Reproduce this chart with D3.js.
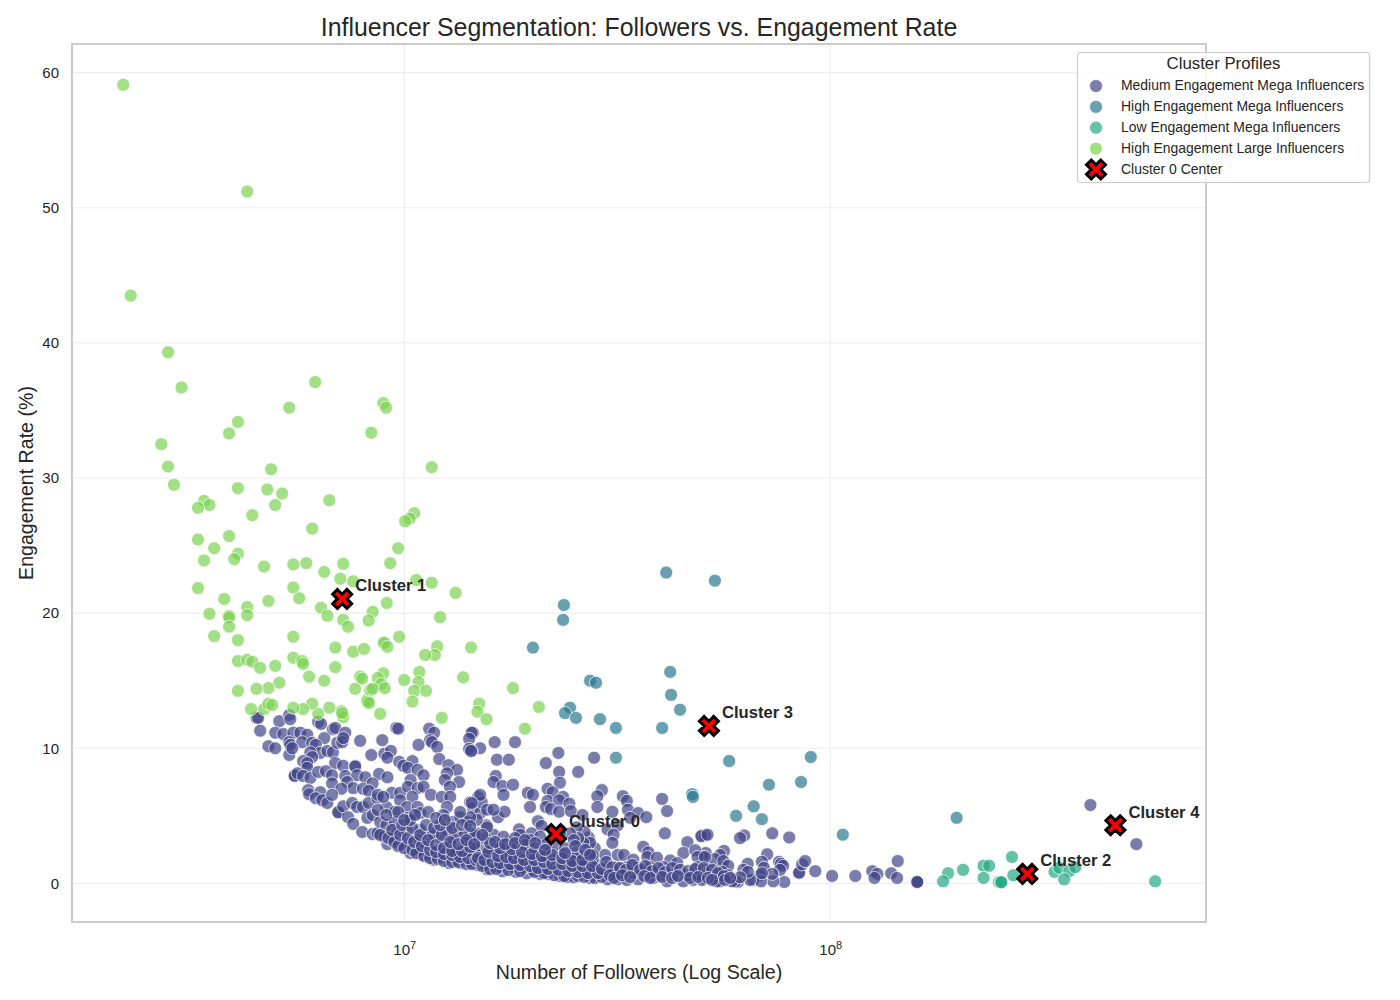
<!DOCTYPE html>
<html>
<head>
<meta charset="utf-8">
<script src="https://cdn.jsdelivr.net/npm/d3@7"></script>
<style>
  html, body { margin: 0; background: #fff; }
  svg { display: block; font-family: "Liberation Sans", Arial, sans-serif; }
</style>
</head>
<body>
<div id="chart"></div>
<script>
// values are [followers in millions, engagement rate %]
const clusterNames = [
  "Medium Engagement Mega Influencers",
  "High Engagement Mega Influencers",
  "Low Engagement Mega Influencers",
  "High Engagement Large Influencers",
];
const clusterColors = ["#414487", "#2a788e", "#22a884", "#7ad151"];

const mediumMega = [
  [408,5.8],[523,2.9],[144,1.65],[139,0.75],[143.5,0.4],[160,0.1],[160,0.1],[160,0.1],[125.5,0.9],[129,0.7],[127,0.4],[114.5,0.55],[101,0.55],[92.2,0.9],[84.5,0.75],[84.5,0.8],[85.9,1.4],[87.3,1.65],[78,0.1],[73.5,0.15],[73.1,3.7],[80.1,3.4],[62.8,3.55],[61.4,3.35],[50,3.5],[50.8,3.55],[71.1,2.15],[56.3,2.4],[55.1,2.1],[51,2.25],[75.8,1.6],[76.6,1.45],[77.5,1.3],[76.2,1.0],[69.1,1.6],[69.9,1.15],[64,1.45],[73.1,0.7],[68.4,0.6],[65.9,0.25],[68.8,0.15],[64.8,0.25],[60.7,0.1],[60,0.15],[58.8,0.15],[55.1,0.15],[54.2,0.15],[50,0.4],[51.6,1.2],[53.6,1.8],[55.8,1.2],[56.1,1.65],[57.6,1.3],[55.8,0.85],[62.5,1.0],[64.1,0.85],[69.1,0.75],[50.3,1.95],[49.5,0.6],[51.3,0.75],[57.6,0.6],[61.4,0.45],
  [16.3,10.45],[18.2,10.45],[23,9.65],[27.9,9.3],[21.5,8.9],[16.5,9.15],[17.6,9.15],[23.1,8.25],[25.6,8.25],[15.07,10.0],[14.5,11.15],[14.4,9.8],[16.4,7.95],[16.2,7.5],[17,7.2],[18,7.3],[17.1,6.55],[23.2,7.45],[21.7,7.0],[22.3,6.75],[23.6,6.4],[19.5,6.7],[20.05,6.55],[29.1,6.9],[28.4,6.45],[32.6,6.45],[33.3,6.1],[40.3,6.25],[41.4,5.35],[28.4,5.65],[21.7,6.1],[23.1,6.15],[24.4,5.9],[19.74,5.65],[21.5,5.65],[22.1,5.5],[23.1,5.3],[24.6,5.35],[33.5,5.45],[30.8,5.3],[35.4,5.2],[37,4.9],[33.9,4.85],[16.6,4.9],[17.2,5.3],[15.6,4.3],[20.6,4.6],[21,4.25],[26.2,5.05],[30,4.0],[31.7,4.3],[31,3.6],[40.9,3.7],[49.8,3.5],[46.2,3.05],[51.5,3.6],[30.8,3.0],[36.4,2.7],[37.4,2.3],[37.2,1.95],[28,2.6],[27.1,3.4],[26.5,3.8],[25.4,4.15],[18.6,4.0],[19.9,3.7],
  [4.5,12.25],[4.54,12.25],[5.09,12.0],[5.37,12.45],[5.4,12.15],[6.28,11.95],[6.38,11.8],[6.8,11.4],[6.89,11.5],[7.27,11.15],[4.59,11.3],[4.98,11.15],[5.2,11.05],[5.49,11.15],[5.7,11.15],[5.92,11.0],[9.58,11.5],[9.68,11.45],[11.44,11.45],[11.75,11.15],[11.5,10.6],[11.62,10.45],[11.95,10.1],[10.8,10.25],[14.4,11.15],[14.2,10.7],[14.2,9.95],[14.35,9.8],[7.88,10.55],[8.88,10.6],[6.49,10.75],[4.8,10.15],[4.98,10.0],[5.37,9.5],[5.37,10.45],[5.4,10.25],[5.76,10.45],[6.08,10.4],[5.46,10.0],[6.2,10.25],[6.35,9.65],[6.6,9.8],[6.8,9.7],[6.96,10.4],[7.15,10.45],[7.19,10.75],[6.02,9.7],[6.08,9.35],[5.79,9.05],[5.92,8.9],[5.92,8.55],[6.89,8.9],[7.19,8.7],[7.67,8.7],[7.67,8.65],[8.37,9.5],[8.98,9.6],[9.3,9.8],[9.13,9.3],[9.73,9.0],[10.45,9.05],[9.95,8.7],[10.2,8.55],[10.75,8.4],[11.1,8.0],[12.08,9.2],[12.7,8.75],[13.3,8.4],[12.6,8.15],[12.45,7.65],[13.45,7.5],[12.8,7.15],[5.53,8.0],[5.53,7.95],[5.62,8.15],[5.79,7.95],[6.02,7.8],[6.28,8.25],[6.55,8.3],[6.77,8.0],[7.27,7.95],[7.75,8.0],[8.1,7.85],[8.73,8.1],[9.13,7.85],[6.77,7.4],[7.35,7.5],[7.59,7.05],[7.12,7.0],[8.43,7.4],[8,7.0],[8.25,6.85],[5.95,6.9],[5.98,6.6],[6.35,6.75],[6.2,6.3],[6.42,6.15],[6.6,5.95],[6.77,6.55],[7,5.3],[7,5.25],[7.19,5.7],[7.38,4.9],[7.59,4.4],[7.55,5.95],[7.75,5.65],[8,5.65],[8.25,5.95],[8.65,6.3],[8.67,6.55],[9.35,6.7],[9.78,6.7],[10.35,7.65],[10.2,7.15],[10.75,7.05],[11.1,7.15],[10.45,6.4],[9.78,6.15],[9.08,5.65],[8.93,6.4],[9.5,5.3],[10.15,5.65],[10.75,5.65],[10.9,5.2],[11.55,6.55],[12.25,6.4],[12.82,6.4],[12.6,5.65],[12.35,5.05],[13,4.55],[13.53,4.9],[14.05,4.55],[14.28,6.0],[14.5,5.6],[14.9,6.4],[7.97,3.8],[8.43,3.65],[8.65,3.7],[8.19,4.85],[8.43,5.05],[8.78,4.55],[9.08,4.3],[9.5,4.55],[10.2,4.85],[9.13,2.9],[8.98,3.45],[9.63,3.8],[9.78,2.85],[10.33,2.25],[11,2.1],[11.7,1.75],[12.75,1.5],[13.53,1.5],[14.9,1.35],[10.15,3.95],[10.9,3.95],[11.5,3.45],[12.14,3.45],[13.3,3.7],[14.28,3.7],[10.75,3.2],[11.35,2.7],[12.14,2.45],[13,2.7],[14.05,2.45],[14.8,2.45],[11.7,3.7],[12.6,3.95],[9.35,3.2],[10.15,3.0],[10.9,2.45],[11.95,1.95],[13.3,1.95],[14.5,1.95],[12.6,2.7],[13.75,3.45],[13,3.35],[14.8,3.7],
  [15.65,1.05],[17,0.9],[18.3,0.85],[19.4,0.75],[20.84,0.7],[21.7,0.7],[23.2,0.55],[24.1,0.45],[25,0.45],[27.3,0.4],[28,0.4],[30,0.3],[31.7,0.3],[33.3,0.25],[35.4,0.3],[38.4,0.4],[41.4,0.15],[45.2,0.15],[47.6,0.25],[50,0.25],[29.6,2.1],[31.7,2.1],[32.8,2.1],[34.5,1.75],[39.2,1.9],[42.1,1.7],[45.2,2.25],[48.2,2.45],[48.8,1.95],[50.8,1.95],[43.7,1.5],[40.6,1.2],[37.8,1.2],[35.2,1.15],[33.3,1.2],[31.7,1.15],[30,1.2],[28.4,1.35],[26.6,1.2],[25.4,1.2],[24.2,1.15],[23.5,1.2],[22.4,1.2],[21.2,1.2],[20.3,1.35],[19.2,1.5],[18.2,1.6],[17.2,1.75],[16.3,1.75],[15.5,1.95],[14.65,2.25],[27.7,1.75],[26.3,2.1],[25.4,2.3],[24.5,1.9],[23.2,2.1],[20.5,2.25],[19.4,2.45],[18.4,2.6],[17.5,2.3],[16.5,2.3],[15.65,2.6],[14.8,3.0],[18.7,3.6],[17.5,3.05],[16.2,3.6],[17.1,3.45],[27.3,3.0],[26.3,3.0],[25.6,3.35],[24.5,3.7],[27.7,2.1],[25,3.2],[23.2,3.7],[20.84,3.45],[19.74,3.2],[22,2.3],[18,1.2],[16.8,1.2],[15.5,1.35],[19,1.15],[20.05,1.0],[15.07,1.75],[14.28,2.25],[14.28,1.5],[15.07,5.2],[15.2,6.0],[15.65,5.45],[16.2,5.45],[15.07,6.55],[14.4,5.95],[14.8,4.7],[15.65,4.15],[14.28,4.9],[17.1,1.5],[22.4,1.75],[21.1,1.6],[24.5,1.5],[25.9,1.6],[27.3,1.0],[30,0.85],[32.1,0.75],[34.5,0.75],[37.2,0.75],[39.9,0.6],[42.8,0.6],[46.2,0.6],[49.5,0.6],[48.8,1.2],[17.7,2.1],[18.7,1.9],[19.74,1.75],[21.5,1.9],[22.6,2.85],[23.85,2.6],[25.2,1.9],[16.8,2.85],[18.2,3.35],[19.2,2.85],[20.3,2.6],[21.5,2.85],[15.5,3.35],[14.65,3.6],[13.9,3.0],[13.2,2.3],
  // lower band, left part
  [8.78,3.58],[9.18,3.35],[9.48,3.06],[9.68,2.76],[10,2.61],[10.45,2.47],[10.67,2.24],[11.15,2.02],[11.5,1.87],[12,1.8],[12.4,1.65],[12.96,1.58],[13.4,1.58],[14,1.43],[14.43,1.43],
  [9.37,3.95],[9.78,3.58],[10.2,3.35],[10.55,3.06],[11,2.76],[11.5,2.47],[11.88,2.32],[12.4,2.17],[12.96,2.1],[13.53,1.95],[14.13,1.87],[14.75,1.73],
  [9.89,4.32],[10.45,4.1],[10.9,3.58],[11.38,3.2],[11.88,2.84],[12.4,2.61],[12.96,2.39],[13.67,2.39],[14.28,2.69],[14.9,1.87],
  [10.33,4.69],[11.25,4.32],[11.75,4.1],[12.25,3.58],[12.82,3.06],[13.4,2.9],[14,3.2],[14.6,2.9],[12.14,4.32],[12.96,4.1],[13.67,4.32],[14.28,4.24],
  [8.67,5.43],[9.08,5.06],[9.68,5.28],[10,4.69],[10.6,5.06],[11.38,5.28],[11.88,4.84],[12.45,4.69],[13.53,5.28],
  // lower band, middle part
  [15.25,1.28],[15.91,1.06],[16.45,1.06],[17.55,0.98],[18.7,0.91],[20.2,0.84],[21.3,0.76],[22.5,0.6],[23.75,0.54],[25.6,0.54],[26.45,0.47],[29.1,0.47],
  [15.42,1.73],[16.1,1.58],[16.79,1.5],[17.72,1.43],[18.7,1.36],[19.74,1.28],[20.6,1.13],[21.75,1.06],[23,1.0],[24.25,0.91],[25.6,0.84],[27,0.76],[28.5,0.76],
  [15.75,2.32],[16.6,2.02],[17.35,1.95],[18.1,1.87],[19.1,1.73],[20.2,1.73],[21.3,1.58],[22.25,1.43],[23.5,1.43],[24.8,1.28],[26.2,1.28],[27.6,1.28],[29.1,1.06],
  [15.91,2.98],[16.79,2.61],[17.9,2.54],[18.9,2.32],[19.95,2.17],[21.05,2.02],[22.25,2.1],[23.5,1.87],[24.8,1.65],[26.2,1.73],
  [15.25,3.58],[16.35,3.06],[17.25,2.9],[18.2,2.98],[19.2,3.2],[20.3,2.98],[21.4,2.47],[23.85,2.24],[25.2,2.76],[26.6,2.47],[27.3,2.1],
  // lower band, right part
  [29.8,1.58],[30.8,1.2],[32.1,1.13],[33.15,1.0],[34.3,1.36],[35.8,1.0],[36.8,1.28],[38.2,0.91],[39.5,1.13],[40.95,0.84],[42.55,1.13],[44.4,1.0],[46.4,0.91],[48.2,1.06],[50.5,1.13],[52.8,1.0],[54.5,0.76],[56.3,0.54],
  [30.4,0.6],[31.1,0.4],[32.45,0.6],[33.9,0.47],[36.6,0.54],[37.8,0.4],[40.3,0.47],[42.55,0.4],[43.9,0.54],[46.9,0.4],[49,0.47],[51.6,0.4],[52.8,0.25],[56.6,0.25],[58.2,0.4],
];

const highMega = [
  [41.2,23.0],[53.6,22.4],[23.7,20.6],[23.6,19.5],[20.05,17.45],[27.3,15.0],[28.2,14.85],[42.1,15.65],[42.3,13.95],[44.4,12.85],[24.5,13.0],[23.85,12.6],[25.3,12.25],[28.8,12.15],[31.4,11.5],[40.3,11.5],[31.4,9.3],[57.9,9.05],[90,9.35],[85.4,7.5],[71.8,7.3],[66.1,5.7],[60.1,5.0],[69.1,4.75],[107,3.6],[198,4.85],[47.4,6.6],[47.6,6.4],
];

const lowMega = [
  [189,0.75],[205,1.0],[184,0.15],[229,1.3],[236,1.3],[229,0.4],[267,1.95],[269,0.6],[249,0.1],[252,0.1],[252,0.08],[336,0.85],[345,1.15],[364,0.9],[376,1.2],[354,0.3],[579,0.15],
];

const highLarge = [
  [2.19,59.1],[2.28,43.5],[2.79,39.3],[3,36.7],[2.69,32.5],[2.79,30.85],[2.88,29.5],[4.28,51.2],[6.18,37.1],[5.37,35.2],[8.93,35.55],[9.07,35.2],[8.37,33.35],[4.07,34.15],[3.88,33.3],[11.6,30.8],[4.87,30.65],[4.07,29.25],[4.77,29.15],[5.17,28.85],[3.39,28.3],[3.49,28.0],[3.28,27.8],[4.98,28.0],[6.67,28.35],[4.4,27.25],[10.55,27.4],[10.3,27.0],[10.05,26.8],[6.08,26.25],[9.68,24.8],[3.28,25.45],[3.88,25.7],[4.07,24.4],[3.58,24.8],[3.39,23.9],[3.99,24.0],[4.69,23.45],[5.49,23.6],[5.89,23.7],[7.19,23.65],[9.27,23.7],[6.49,23.05],[7.08,22.55],[7.59,22.35],[10.67,22.45],[11.6,22.25],
  [3.28,21.85],[3.78,21.05],[4.28,20.45],[4.8,20.9],[5.49,21.9],[5.67,21.1],[6.38,20.4],[6.6,19.8],[7.19,19.5],[7.38,19.0],[3.49,19.95],[3.88,19.8],[3.88,19.7],[4.28,19.85],[3.88,19.0],[3.58,18.3],[4.07,18.0],[5.49,18.25],[6.89,17.45],[7.59,17.15],[8.05,17.35],[4.07,16.45],[4.28,16.55],[4.4,16.4],[4.59,15.95],[4.98,16.1],[5.49,16.7],[5.76,16.45],[5.79,16.25],[6.89,16.0],[5.98,15.3],[6.49,15.0],[5.09,14.85],[4.8,14.45],[4.5,14.4],[4.07,14.25],[7.88,15.3],[7.97,15.15],[7.67,14.4],[8.19,13.6],[8.32,14.3],
  [8.43,20.1],[9.1,20.75],[8.25,19.45],[9.73,18.25],[8.93,17.8],[8.98,17.8],[9.13,17.5],[11.95,17.55],[11.8,16.9],[11.2,16.9],[14.35,17.45],[10.85,15.65],[8.93,15.55],[8.67,15.2],[10,15.05],[10.8,14.9],[8.83,14.75],[13.75,15.25],[8.43,14.4],[9,14.45],[10.55,14.25],[11.25,14.25],[18,14.45],[10.45,13.45],[15,13.3],[20.7,13.05],[14.85,12.7],[15.6,12.15],[12.25,12.25],[8.78,12.55],[19.2,11.45],[7.12,12.75],[7.19,12.3],[7.15,12.6],[6.67,13.0],[6.28,12.55],[6.08,13.3],[5.79,12.9],[5.49,13.0],[4.37,12.9],[4.69,12.9],[4.8,13.3],[4.9,13.2],[8.19,13.45],[8.27,13.35],[13.2,21.5],[12.14,19.7],
];

const centerLabels = ["Cluster 0", "Cluster 1", "Cluster 2", "Cluster 3", "Cluster 4"];
const centerFollowers = [22.7, 7.15, 290, 51.9, 467];
const centerRates = [3.65, 21.05, 0.7, 11.65, 4.3];

const yTicks = [0, 10, 20, 30, 40, 50, 60];
const xTicks = [10, 100];
const xTickExponents = ["7", "8"];

const width = 1400, height = 1000;
const plot = { left: 72, right: 1206, top: 44, bottom: 922 };

const svg = d3.select("#chart").append("svg")
  .attr("width", width)
  .attr("height", height);

// log scale over followers in millions
const x = d3.scaleLog().domain([1.66, 762]).range([plot.left, plot.right]);
const y = d3.scaleLinear().domain([-2.86, 62.12]).range([plot.bottom, plot.top]);

// ── Grid ──
const grid = svg.append("g").attr("stroke", "#eeeeee").attr("stroke-width", 1.2);
grid.selectAll("line.h").data(yTicks).join("line")
  .attr("x1", plot.left).attr("x2", plot.right)
  .attr("y1", (d) => y(d)).attr("y2", (d) => y(d));
grid.selectAll("line.v").data(xTicks).join("line")
  .attr("x1", (d) => x(d)).attr("x2", (d) => x(d))
  .attr("y1", plot.top).attr("y2", plot.bottom);

// ── Frame ──
svg.append("rect")
  .attr("x", plot.left).attr("y", plot.top)
  .attr("width", plot.right - plot.left).attr("height", plot.bottom - plot.top)
  .attr("fill", "none").attr("stroke", "#cccccc").attr("stroke-width", 2);

// ── Axes ──
const yAxis = svg.append("g")
  .attr("transform", `translate(${plot.left},0)`)
  .call(d3.axisLeft(y).tickValues(yTicks).tickSize(0).tickPadding(13));
yAxis.select(".domain").remove();
yAxis.selectAll("text")
  .style("font-size", "15px").style("font-family", "inherit").attr("fill", "#262626");

const xAxis = svg.append("g")
  .attr("transform", `translate(0,${plot.bottom})`)
  .call(d3.axisBottom(x).tickValues(xTicks).tickSize(0).tickPadding(22).tickFormat(() => ""));
xAxis.select(".domain").remove();
xAxis.selectAll("text").each(function (d, i) {
  const t = d3.select(this)
    .style("font-size", "15px").style("font-family", "inherit").attr("fill", "#262626");
  t.append("tspan").text("10");
  t.append("tspan").attr("dy", "-0.5em").style("font-size", "11px").text(xTickExponents[i]);
});

// ── Points ──
[mediumMega, highMega, lowMega, highLarge].forEach((points, i) => {
  svg.append("g").selectAll("circle").data(points).join("circle")
    .attr("cx", (d) => x(d[0]))
    .attr("cy", (d) => y(d[1]))
    .attr("r", 6.5)
    .attr("fill", clusterColors[i])
    .attr("fill-opacity", 0.7)
    .attr("stroke", "#fff")
    .attr("stroke-opacity", 0.7)
    .attr("stroke-width", 1);
});

// ── Cluster centres ──
const xMark = d3.symbol().type(d3.symbolCross).size(225);
svg.append("g").selectAll("path").data(centerFollowers).join("path")
  .attr("d", xMark)
  .attr("transform", (d, i) => `translate(${x(d)},${y(centerRates[i])}) rotate(45)`)
  .attr("fill", "#ff0000")
  .attr("stroke", "#000")
  .attr("stroke-width", 3);

svg.append("g").selectAll("text").data(centerLabels).join("text")
  .attr("x", (d, i) => x(centerFollowers[i]) + 13)
  .attr("y", (d, i) => y(centerRates[i]) - 7.5)
  .style("font-size", "16.6px")
  .style("font-weight", "bold")
  .attr("fill", "#262626")
  .text((d) => d);

// ── Titles ──
svg.append("text")
  .attr("x", (plot.left + plot.right) / 2).attr("y", 36)
  .attr("text-anchor", "middle")
  .style("font-size", "24.9px").attr("fill", "#262626")
  .text("Influencer Segmentation: Followers vs. Engagement Rate");

svg.append("text")
  .attr("x", (plot.left + plot.right) / 2).attr("y", 978.5)
  .attr("text-anchor", "middle")
  .style("font-size", "19.6px").attr("fill", "#262626")
  .text("Number of Followers (Log Scale)");

svg.append("text")
  .attr("transform", `translate(32.5,${(plot.top + plot.bottom) / 2}) rotate(-90)`)
  .attr("text-anchor", "middle")
  .style("font-size", "19.6px").attr("fill", "#262626")
  .text("Engagement Rate (%)");

// ── Legend ──
const legend = svg.append("g").attr("transform", "translate(1077.5,52.5)");
legend.append("rect")
  .attr("width", 292).attr("height", 130).attr("rx", 3)
  .attr("fill", "#fff").attr("fill-opacity", 0.8)
  .attr("stroke", "#cccccc").attr("stroke-width", 1.2);
legend.append("text")
  .attr("x", 146).attr("y", 16)
  .attr("text-anchor", "middle")
  .style("font-size", "16.8px").attr("fill", "#262626")
  .text("Cluster Profiles");

const legendRows = [...clusterNames, "Cluster 0 Center"];
const rowY = d3.scalePoint().domain(legendRows).range([33.5, 117]);
legendRows.forEach((name, i) => {
  const ry = rowY(name);
  if (i < clusterNames.length) {
    legend.append("circle")
      .attr("cx", 18.5).attr("cy", ry).attr("r", 6.5)
      .attr("fill", clusterColors[i]).attr("fill-opacity", 0.7)
      .attr("stroke", "#fff").attr("stroke-opacity", 0.7);
  } else {
    legend.append("path")
      .attr("d", xMark)
      .attr("transform", `translate(18.5,${ry}) rotate(45)`)
      .attr("fill", "#ff0000").attr("stroke", "#000").attr("stroke-width", 3);
  }
  legend.append("text")
    .attr("x", 43.5).attr("y", ry + 4)
    .style("font-size", "13.95px").attr("fill", "#262626")
    .text(name);
});
</script>
</body>
</html>
